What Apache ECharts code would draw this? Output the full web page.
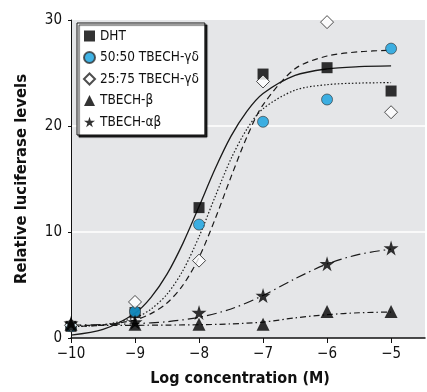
<!DOCTYPE html>
<html>
<head>
<meta charset="utf-8">
<script src="https://cdn.jsdelivr.net/npm/echarts@6/dist/echarts.min.js"></script>
<style>
  html, body { margin: 0; padding: 0; background: #fff; }
  #chart { width: 427px; height: 392px; }
</style>
</head>
<body>
<div id="chart"></div>
<script>
const FONT = "'Liberation Sans Narrow', 'DejaVu Sans Condensed', 'Liberation Sans', sans-serif"

// measured points
const doses = [-10, -9, -8, -7, -6, -5]
const dht = [1.1, 2.4, 12.3, 24.9, 25.5, 23.3]
const mix5050 = [1.1, 2.5, 10.7, 20.4, 22.5, 27.3]
const mix2575 = [1.2, 3.4, 7.3, 24.2, 29.8, 21.3]
const tbechB = [1.3, 1.3, 1.3, 1.3, 2.5, 2.5]
const tbechAB = [1.4, 1.5, 2.4, 4.0, 7.0, 8.5]

// fitted curves
const fitX = [-10, -9.5, -9, -8.75, -8.5, -8.25, -8, -7.75, -7.5, -7.25, -7, -6.5, -6, -5.5, -5]
const fitSolid = [0.27, 0.81, 2.34, 3.83, 6.02, 8.95, 12.4, 15.94, 19.04, 21.4, 23.06, 24.77, 25.39, 25.6, 25.67]
const fitDotted = [1.07, 1.25, 1.92, 2.73, 4.13, 6.38, 9.56, 13.31, 16.91, 19.73, 21.63, 23.38, 23.9, 24.05, 24.09]
const fitDashed = [1.08, 1.22, 1.7, 2.3, 3.3, 5.0, 7.6, 11.2, 15.2, 19.0, 22.0, 25.4, 26.6, 27.0, 27.15]
const fitX2 = [-10, -9.5, -9, -8.5, -8, -7.5, -7, -6.5, -6, -5.5, -5]
const fitStar = [1.21, 1.27, 1.35, 1.54, 1.95, 2.74, 4.01, 5.59, 6.98, 7.89, 8.38]
const fitTri = [1.2, 1.2, 1.2, 1.22, 1.25, 1.33, 1.5, 1.9, 2.2, 2.38, 2.45]

const xTicks = [-10, -9, -8, -7, -6, -5]
const yTicks = [0, 10, 20, 30]

const names = ['DHT', '50:50 TBECH-γδ', '25:75 TBECH-γδ', 'TBECH-β', 'TBECH-αβ']
const star = 'path://M50,0 L61,35 L98,35 L68,57 L79,91 L50,70 L21,91 L32,57 L2,35 L39,35 Z'

const pair = (xs, ys) => xs.map((x, i) => [x, ys[i]])

const curve = (ys, xs, type, width) => ({
  type: 'line',
  data: pair(xs, ys),
  smooth: 0.3,
  showSymbol: false,
  silent: true,
  z: 2,
  lineStyle: { color: '#1a1a1a', width: width || 1.2, type: type }
})

const pts = (name, ys, symbol, size, style) => ({
  name: name,
  type: 'scatter',
  data: pair(doses, ys),
  symbol: symbol,
  symbolSize: size,
  z: 5,
  itemStyle: style
})

const chart = echarts.init(document.getElementById('chart'))
chart.setOption({
  animation: false,
  backgroundColor: '#fff',
  textStyle: { fontFamily: FONT },
  grid: {
    left: 71, right: 2, top: 20, bottom: 52,
    show: true, backgroundColor: '#e5e6e8', borderWidth: 0
  },
  legend: {
    orient: 'vertical',
    left: 77, top: 23,
    data: names,
    itemWidth: 11, itemHeight: 11,
    itemGap: 7.5, itemTextGap: 6,
    padding: [6, 6, 6, 6],
    backgroundColor: '#fff',
    borderColor: '#111', borderWidth: 1,
    shadowColor: 'rgba(0,0,0,0.85)', shadowBlur: 1, shadowOffsetX: 2, shadowOffsetY: 2,
    textStyle: { fontFamily: FONT, fontSize: 13.5, color: '#111' }
  },
  xAxis: {
    type: 'value',
    min: -10, max: -4.47, interval: 1,
    name: 'Log concentration (M)',
    nameLocation: 'middle', nameGap: 33,
    nameTextStyle: { fontFamily: FONT, fontSize: 16, fontWeight: 'bold', color: '#111', padding: [0, 16, 0, 0] },
    axisLine: { lineStyle: { color: '#111', width: 1.5 } },
    axisTick: { length: 5, lineStyle: { color: '#111' } },
    axisLabel: {
      margin: 9, fontSize: 15, color: '#111', showMaxLabel: false,
      formatter: v => xTicks.includes(v) ? String(v).replace('-', '\u2212') : ''
    },
    splitLine: { show: false }
  },
  yAxis: {
    type: 'value',
    min: 0, max: 30, interval: 10,
    name: 'Relative luciferase levels',
    nameLocation: 'middle', nameGap: 41,
    nameTextStyle: { fontFamily: FONT, fontSize: 16.5, fontWeight: 'bold', color: '#111' },
    axisLine: { show: true, lineStyle: { color: '#111', width: 1 } },
    axisTick: { show: true, length: 3, lineStyle: { color: '#111' } },
    axisLabel: {
      margin: 9, fontSize: 15, color: '#111',
      formatter: v => yTicks.includes(v) ? String(v) : ''
    },
    splitLine: { show: true, showMinLine: false, showMaxLine: false, lineStyle: { color: '#fff', width: 1.5 } }
  },
  series: [
    curve(fitSolid, fitX, 'solid', 1.3),
    curve(fitDotted, fitX, [1.5, 2]),
    curve(fitDashed, fitX, [6, 4]),
    curve(fitStar, fitX2, [10, 4, 1.5, 4]),
    curve(fitTri, fitX2, [6, 3, 1.5, 3]),
    pts(names[0], dht, 'rect', 11, { color: '#000' }),
    pts(names[1], mix5050, 'circle', 11, { color: '#12a0df', borderColor: '#333', borderWidth: 0.8 }),
    pts(names[2], mix2575, 'diamond', 13, { color: '#fff', borderColor: '#222', borderWidth: 1 }),
    pts(names[3], tbechB, 'triangle', 13, { color: '#000' }),
    pts(names[4], tbechAB, star, 15, { color: '#000' })
  ]
})
</script>
</body>
</html>
